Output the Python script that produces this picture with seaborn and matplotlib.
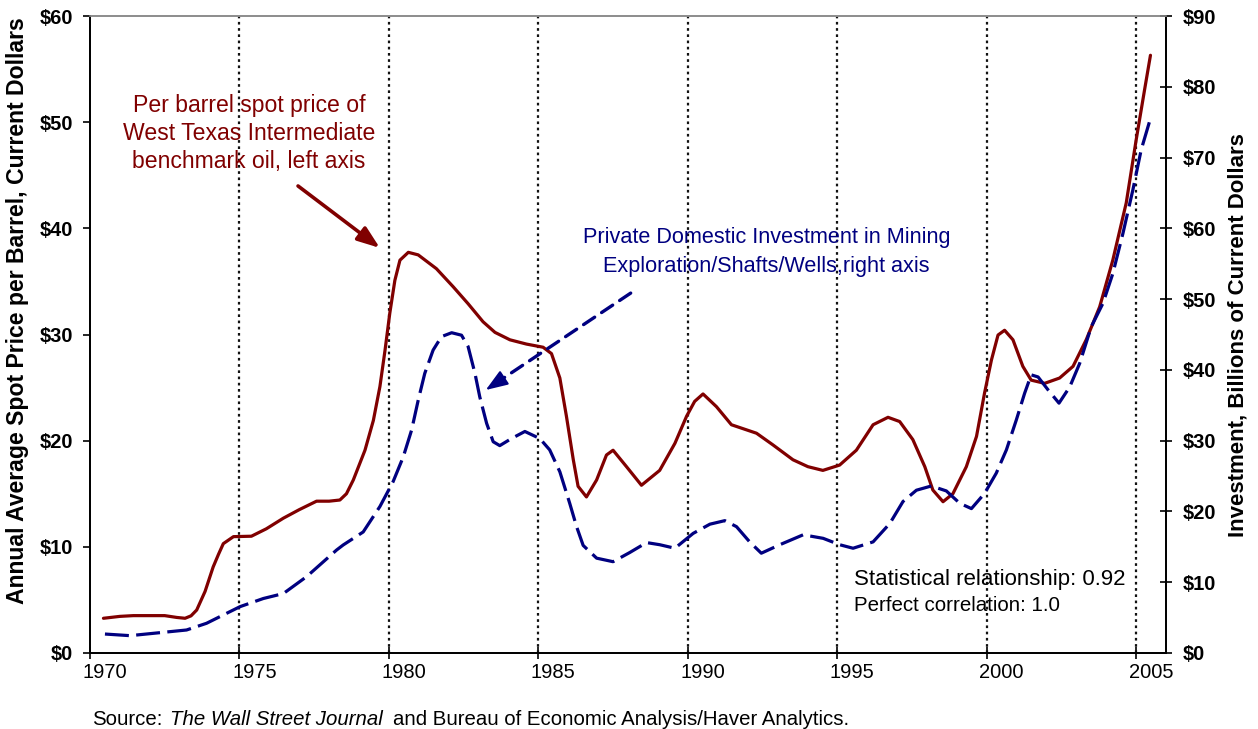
import matplotlib
matplotlib.use("Agg")
import matplotlib.pyplot as plt
import numpy as np
import pandas as pd
import seaborn as sns
from matplotlib.ticker import FixedLocator, FixedFormatter, NullFormatter

# ---------------- data ----------------
oil_years = [1970.45, 1971.0, 1971.45, 1972.0, 1972.5, 1972.9, 1973.18, 1973.38, 1973.57,
             1973.85, 1974.12, 1974.3, 1974.46, 1974.8, 1975.4, 1975.9, 1976.47, 1977.0,
             1977.58, 1978.0, 1978.36, 1978.58, 1978.81, 1979.2, 1979.48, 1979.70, 1979.87,
             1980.03, 1980.2, 1980.37, 1980.65, 1980.98, 1981.59, 1982.15, 1982.65, 1983.15,
             1983.55, 1984.05, 1984.6, 1985.16, 1985.44, 1985.72, 1985.94, 1986.17, 1986.33,
             1986.61, 1986.95, 1987.28, 1987.5, 1987.95, 1988.45, 1989.06, 1989.57, 1989.96,
             1990.23, 1990.51, 1990.96, 1991.46, 1992.3, 1992.85, 1993.52, 1994.02, 1994.52,
             1995.08, 1995.64, 1996.2, 1996.7, 1997.09, 1997.53, 1997.93, 1998.2, 1998.54,
             1998.87, 1999.32, 1999.66, 1999.93, 2000.16, 2000.38, 2000.6, 2000.88, 2001.21,
             2001.49, 2001.94, 2002.44, 2002.89, 2003.33, 2003.78, 2004.22, 2004.67, 2005.0,
             2005.28, 2005.48]
oil_price = [3.27, 3.45, 3.52, 3.52, 3.52, 3.35, 3.27, 3.5, 4.05,
             5.8, 8.1, 9.3, 10.3, 10.96, 11.0, 11.7, 12.7, 13.5,
             14.3, 14.3, 14.41, 15.0, 16.3, 19.1, 21.9, 25.1, 28.5,
             32.0, 35.1, 37.0, 37.74, 37.5, 36.2, 34.5, 32.9, 31.2,
             30.2, 29.5, 29.1, 28.8, 28.2, 25.9, 22.3, 18.2, 15.7,
             14.7, 16.3, 18.65, 19.1, 17.55, 15.8, 17.2, 19.75, 22.3,
             23.7, 24.4, 23.2, 21.5, 20.7, 19.6, 18.2, 17.55, 17.2,
             17.7, 19.1, 21.5, 22.2, 21.8, 20.1, 17.55, 15.35, 14.25,
             15.0, 17.55, 20.4, 24.5, 27.6, 29.95, 30.4, 29.5, 27.0,
             25.7, 25.4, 25.9, 27.0, 29.5, 32.6, 37.0, 42.4, 48.3,
             53.0, 56.3]

inv_years = [1970.5, 1971.34, 1972.45, 1973.23, 1973.9, 1975.02, 1975.8, 1976.47, 1977.25,
             1978.25, 1978.47, 1979.14, 1979.7, 1980.14, 1980.48, 1980.76, 1980.98, 1981.2,
             1981.48, 1981.76, 1982.1, 1982.43, 1982.65, 1982.88, 1983.04, 1983.27, 1983.49,
             1983.71, 1984.1, 1984.55, 1985.05, 1985.38, 1985.72, 1986.05, 1986.28, 1986.5,
             1986.95, 1987.5, 1988.06, 1988.62, 1989.06, 1989.57, 1990.18, 1990.74, 1991.24,
             1991.63, 1992.07, 1992.46, 1993.08, 1993.86, 1994.53, 1995.08, 1995.53, 1996.2,
             1996.76, 1997.2, 1997.65, 1998.15, 1998.65, 1999.1, 1999.49, 1999.93, 2000.32,
             2000.66, 2000.99, 2001.27, 2001.49, 2001.72, 2002.05, 2002.42, 2002.78, 2003.11,
             2003.5, 2003.89, 2004.22, 2004.56, 2004.89, 2005.17, 2005.45]
inv_value = [2.68, 2.45, 2.92, 3.25, 4.2, 6.55, 7.7, 8.4, 10.8,
             14.55, 15.26, 17.1, 20.7, 24.2, 27.7, 31.5, 35.7, 39.5,
             42.8, 44.7, 45.25, 44.9, 43.3, 39.5, 36.2, 32.45, 29.85,
             29.3, 30.3, 31.3, 30.3, 28.7, 25.6, 21.15, 17.85, 15.2,
             13.4, 12.9, 14.2, 15.6, 15.3, 14.8, 16.9, 18.2, 18.7,
             17.85, 15.7, 14.1, 15.3, 16.7, 16.2, 15.3, 14.8, 15.7,
             18.3, 21.4, 23.0, 23.6, 22.9, 21.15, 20.4, 22.55, 25.4,
             28.7, 32.9, 36.7, 39.3, 39.0, 37.2, 35.3, 37.6, 40.9,
             46.1, 49.4, 53.6, 59.3, 65.4, 71.1, 75.1]

year_ticks = [1970, 1975, 1980, 1985, 1990, 1995, 2000, 2005]
year_labels = ["1970", "1975", "1980", "1985", "1990", "1995", "2000", "2005"]
left_ticks = [0, 10, 20, 30, 40, 50, 60]
left_labels = ["$0", "$10", "$20", "$30", "$40", "$50", "$60"]
right_ticks = [0, 10, 20, 30, 40, 50, 60, 70, 80, 90]
right_labels = ["$0", "$10", "$20", "$30", "$40", "$50", "$60", "$70", "$80", "$90"]

oil_df = pd.DataFrame({"year": oil_years, "price": oil_price})
inv_df = pd.DataFrame({"year": inv_years, "invest": inv_value})

RED = "#800000"
BLUE = "#000080"

sns.set_theme(style="white")
plt.rcParams["font.family"] = ["Liberation Sans", "DejaVu Sans"]

W, H = 1258, 729
fig = plt.figure(figsize=(W / 100, H / 100), dpi=100)
fig.patch.set_facecolor("white")
ax = fig.add_axes([90 / W, 1 - 653 / H, (1166 - 90) / W, (653 - 16) / H])
ax2 = ax.twinx()

# vertical dotted reference lines
for yr in year_ticks[1:]:
    ax.axvline(yr, color="#111111", lw=1.6, linestyle=(0, (1.2, 1.6)), zorder=1)

sns.lineplot(data=oil_df, x="year", y="price", ax=ax, color=RED, lw=2.3,
             estimator=None, sort=False, zorder=3, solid_joinstyle="round",
             solid_capstyle="round")
sns.lineplot(data=inv_df, x="year", y="invest", ax=ax2, color=BLUE, lw=2.3,
             estimator=None, sort=False, zorder=3, dash_joinstyle="round")
ax2.lines[-1].set_linestyle((0, (7.5, 2.3)))

ax.set_xlim(1970, 2006)
ax.set_ylim(0, 60)
ax2.set_ylim(0, 90)
ax.set_xlabel("")
ax.set_ylabel("")
ax2.set_ylabel("")

# x axis: major ticks at years, labels centred half a year later
ax.xaxis.set_major_locator(FixedLocator(year_ticks))
ax.xaxis.set_major_formatter(NullFormatter())
ax.xaxis.set_minor_locator(FixedLocator([y + 0.5 for y in year_ticks]))
ax.xaxis.set_minor_formatter(FixedFormatter(year_labels))
ax.tick_params(axis="x", which="major", bottom=True, direction="inout", length=9,
               width=1.2, color="black")
ax.tick_params(axis="x", which="minor", bottom=True, length=0, labelsize=14.5,
               pad=7.5, labelcolor="black")

ax.set_yticks(left_ticks)
ax.set_yticklabels(left_labels, fontweight="bold")
ax.tick_params(axis="y", left=True, direction="out", length=5, width=1.2,
               labelsize=14.5, pad=7, color="black", labelcolor="black")

ax2.set_yticks(right_ticks)
ax2.set_yticklabels(right_labels, fontweight="bold")
ax2.tick_params(axis="y", right=True, direction="inout", length=9, width=1.2,
                labelsize=14.5, pad=7.5, color="black", labelcolor="black")

for a in (ax, ax2):
    a.grid(False)
    for side in ("left", "right", "bottom"):
        a.spines[side].set_visible(True)
        a.spines[side].set_color("black")
        a.spines[side].set_linewidth(1.3)
    a.spines["top"].set_visible(True)
    a.spines["top"].set_color("#8c8c8c")
    a.spines["top"].set_linewidth(1.2)

# axis titles
fig.text(18 / W, 1 - 311 / H, "Annual Average Spot Price per Barrel, Current Dollars",
         rotation=90, ha="center", va="center", fontsize=16.6, fontweight="bold", color="black")
fig.text(1238 / W, 1 - 335 / H, "Investment, Billions of Current Dollars",
         rotation=90, ha="center", va="center", fontsize=16, fontweight="bold", color="black")

# annotations
ax.text(1975.32, 50.98, "Per barrel spot price of", ha="center", va="baseline",
        fontsize=16.6, color=RED)
ax.text(1975.32, 48.32, "West Texas Intermediate", ha="center", va="baseline",
        fontsize=16.6, color=RED)
ax.text(1975.32, 45.65, "benchmark oil, left axis", ha="center", va="baseline",
        fontsize=16.6, color=RED)
ax.annotate("", xy=(1979.70, 38.15), xytext=(1976.96, 43.99),
            arrowprops=dict(arrowstyle="-|>,head_length=0.9,head_width=0.33",
                            color=RED, lw=2.6, shrinkA=0, shrinkB=0, mutation_scale=15))

ax.text(1986.49, 38.59, "Private Domestic Investment in Mining", ha="left", va="baseline",
        fontsize=15.6, color=BLUE)
ax.text(1987.16, 35.92, "Exploration/Shafts/Wells,right axis", ha="left", va="baseline",
        fontsize=15.6, color=BLUE)
# dashed shaft + solid head
ax.annotate("", xy=(1983.6, 25.45), xytext=(1988.09, 33.9),
            arrowprops=dict(arrowstyle="-", color=BLUE, lw=2.4, linestyle=(0, (4, 2.5)),
                            shrinkA=0, shrinkB=0))
ax.annotate("", xy=(1983.24, 24.77), xytext=(1983.8, 25.82),
            arrowprops=dict(arrowstyle="-|>,head_length=0.9,head_width=0.33",
                            color=BLUE, lw=1.5, shrinkA=0, shrinkB=0, mutation_scale=15))

ax.text(1995.55, 6.4, "Statistical relationship: 0.92", ha="left", va="baseline",
        fontsize=16, color="black")
ax.text(1995.55, 3.98, "Perfect correlation: 1.0", ha="left", va="baseline",
        fontsize=14.8, color="black")

# source line
yb = 4 / H
fig.text(92 / W, yb, "Source:", fontsize=14.7, va="baseline", color="black")
fig.text(170 / W, yb, "The Wall Street Journal", fontsize=14.7, style="italic",
         va="baseline", color="black")
fig.text(393 / W, yb, "and Bureau of Economic Analysis/Haver Analytics.", fontsize=14.7,
         va="baseline", color="black")

fig.savefig("out.png", dpi=100, facecolor="white")
